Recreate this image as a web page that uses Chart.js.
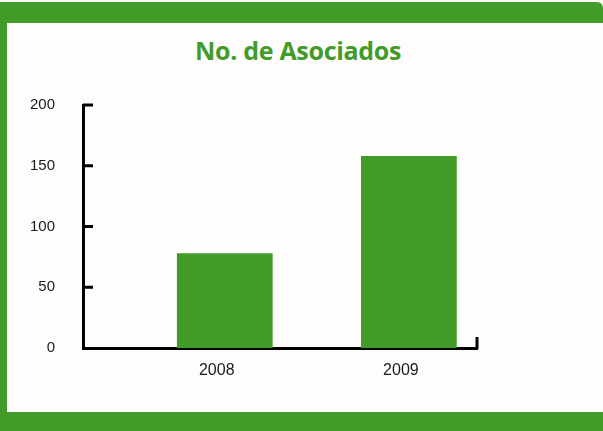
<!DOCTYPE html>
<html>
<head>
<meta charset="utf-8">
<script src="https://cdn.jsdelivr.net/npm/chart.js@4"></script>
<style>
  html, body { margin: 0; padding: 0; }
  body { width: 603px; height: 431px; background: #fefdfb; position: relative; overflow: hidden; }
  #marco { position: absolute; left: 0; top: 2px; width: 603px; height: 429px; background: #419b28; border-top-right-radius: 6px; }
  #panel { position: absolute; left: 7px; top: 23px; width: 596px; height: 389px; background: #fefdfb; }
  #titulo { position: absolute; left: 195px; width: 200px; top: 33px; text-align: center; white-space: nowrap;
    font-family: "Open Sans", sans-serif; font-weight: bold; font-size: 25px; color: #419b28; letter-spacing: -0.3px; }
  #grafica { position: absolute; left: 0; top: 0; width: 603px; height: 431px; }
</style>
</head>
<body>
<div id="marco"></div>
<div id="panel"></div>
<div id="titulo">No. de Asociados</div>
<div id="grafica"><canvas id="graphicChart"></canvas></div>
<script>
const anios = [2008, 2009];
const asociados = [78, 158];
const ticksY = [0, 50, 100, 150, 200];

const verde = "#419b28";
const negro = "#000";

// marcas de escala hacia adentro (como en el original)
const marcasInternas = {
  id: "marcasInternas",
  afterDraw: (chart) => {
    const ctx = chart.ctx;
    const y = chart.scales.y;
    const x = chart.scales.x;
    ctx.save();
    ctx.strokeStyle = negro;
    ctx.lineWidth = 3;
    ticksY.forEach((v) => {
      const py = y.getPixelForValue(v);
      if (v === 0) return;
      ctx.beginPath();
      ctx.moveTo(x.left, py);
      ctx.lineTo(x.left + 10, py);
      ctx.stroke();
    });
    const px = x.getPixelForValue(x.max);
    ctx.beginPath();
    ctx.moveTo(px, y.bottom + 1);
    ctx.lineTo(px, y.bottom - 11);
    ctx.stroke();
    ctx.restore();
  },
};

new Chart(document.getElementById("graphicChart"), {
  type: "bar",
  data: {
    datasets: [
      {
        label: "No. de Asociados",
        data: anios.map((a, i) => ({ x: a, y: asociados[i] })),
        backgroundColor: verde,
        borderWidth: 0,
        barPercentage: 0.52,
        categoryPercentage: 1,
      },
    ],
  },
  options: {
    responsive: true,
    maintainAspectRatio: false,
    animation: false,
    layout: { padding: { left: 0, right: 126, top: 105, bottom: 43 } },
    plugins: {
      legend: { display: false },
      tooltip: { enabled: false },
    },
    scales: {
      x: {
        type: "linear",
        offset: false,
        min: anios[0] - 0.77,
        max: anios[1] + 0.37,
        afterBuildTicks: (scale) => {
          scale.ticks = anios.map((a) => ({ value: a }));
        },
        afterFit: (scale) => {
          scale.height = 40;
        },
        grid: { display: false, offset: false },
        border: { display: true, color: negro, width: 3 },
        ticks: {
          callback: (v) => String(v),
          labelOffset: -8,
          padding: 5,
          color: "#1a1a1a",
          font: { family: "Liberation Sans, Arial", size: 16 },
          maxRotation: 0,
        },
      },
      y: {
        min: 0,
        max: 200,
        afterBuildTicks: (scale) => {
          scale.ticks = ticksY.map((v) => ({ value: v }));
        },
        afterFit: (scale) => {
          scale.width = 83;
        },
        grid: { display: false },
        border: { display: true, color: negro, width: 3 },
        ticks: {
          padding: 20,
          color: "#1a1a1a",
          font: { family: "Liberation Sans, Arial", size: 15 },
        },
      },
    },
  },
  plugins: [marcasInternas],
});
</script>
</body>
</html>
